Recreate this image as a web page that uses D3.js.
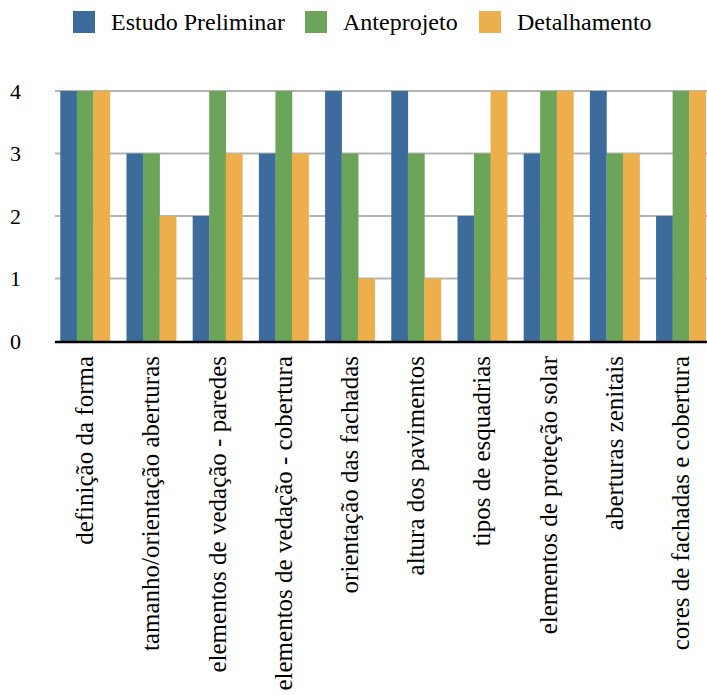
<!DOCTYPE html>
<html>
<head>
<meta charset="utf-8">
<script src="https://cdn.jsdelivr.net/npm/d3@7"></script>
<style>
  html, body { margin: 0; padding: 0; background: #fff; }
  svg { display: block; }
</style>
</head>
<body>
<svg id="chart" width="707" height="695"></svg>
<script>
const categories = [
  "definição da forma",
  "tamanho/orientação aberturas",
  "elementos de vedação - paredes",
  "elementos de vedação - cobertura",
  "orientação das fachadas",
  "altura dos pavimentos",
  "tipos de esquadrias",
  "elementos de proteção solar",
  "aberturas zenitais",
  "cores de fachadas e cobertura"
];
const seriesNames = ["Estudo Preliminar", "Anteprojeto", "Detalhamento"];
const estudoPreliminar = [4, 3, 2, 3, 4, 4, 2, 3, 4, 2];
const anteprojeto      = [4, 3, 4, 4, 3, 3, 3, 4, 3, 4];
const detalhamento     = [4, 2, 3, 3, 1, 1, 4, 4, 3, 4];
const yTicks = [0, 1, 2, 3, 4];
const colors = ["#3C6B9C", "#6CA45A", "#EDAE4C"];

const seriesValues = [estudoPreliminar, anteprojeto, detalhamento];
const FONT = "Liberation Serif";

const svg = d3.select("#chart");
const plotLeft = 52, plotRight = 714, plotTop = 91, plotBottom = 341;

const x = d3.scaleBand().domain(categories).range([plotLeft, plotRight])
  .paddingInner(0.25).paddingOuter(0.125);
const xs = d3.scaleBand().domain(seriesNames).range([0, x.bandwidth()]);
const y = d3.scaleLinear().domain([0, 4]).range([plotBottom, plotTop]);

// horizontal gridlines
svg.append("g").selectAll("line")
  .data(yTicks.filter(d => d > 0))
  .join("line")
  .attr("x1", 55).attr("x2", 707)
  .attr("y1", d => y(d)).attr("y2", d => y(d))
  .attr("stroke", "#B4B4B4").attr("stroke-width", 2);

// bars
const groups = svg.append("g").selectAll("g")
  .data(categories)
  .join("g")
  .attr("transform", d => `translate(${x(d)},0)`);

groups.selectAll("rect")
  .data((d, i) => seriesNames.map((s, j) => ({ s, j, v: seriesValues[j][i] })))
  .join("rect")
  .attr("x", d => xs(d.s))
  .attr("width", xs.bandwidth() + 0.3)
  .attr("y", d => y(d.v))
  .attr("height", d => y(0) - y(d.v))
  .attr("fill", d => colors[d.j]);

// baseline
svg.append("line")
  .attr("x1", 55).attr("x2", 707)
  .attr("y1", y(0) + 1).attr("y2", y(0) + 1)
  .attr("stroke", "#000").attr("stroke-width", 2.5);

// y axis labels
svg.append("g").selectAll("text")
  .data(yTicks)
  .join("text")
  .attr("x", 21)
  .attr("y", d => y(d))
  .attr("dy", "0.35em")
  .attr("text-anchor", "end")
  .attr("font-family", FONT)
  .attr("font-size", 22)
  .attr("fill", "#000")
  .text(d => d);

// category labels, rotated
svg.append("g").selectAll("text")
  .data(categories)
  .join("text")
  .attr("transform", d => `translate(${x(d) + x.bandwidth() / 2 + 8},356) rotate(-90)`)
  .attr("text-anchor", "end")
  .attr("font-family", FONT)
  .attr("font-size", 25)
  .attr("fill", "#000")
  .text(d => d);

// legend
const legendX = [73, 305, 479];
const legend = svg.append("g").selectAll("g")
  .data(seriesNames)
  .join("g")
  .attr("transform", (d, i) => `translate(${legendX[i]},11)`);
legend.append("rect")
  .attr("width", 22).attr("height", 22)
  .attr("fill", (d, i) => colors[i]);
legend.append("text")
  .attr("x", 38).attr("y", 18.5)
  .attr("font-family", FONT)
  .attr("font-size", 24)
  .attr("fill", "#000")
  .text(d => d);
</script>
</body>
</html>
